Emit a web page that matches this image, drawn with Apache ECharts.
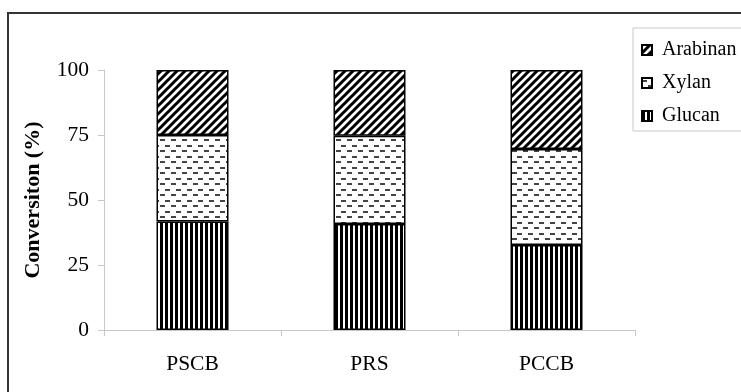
<!DOCTYPE html>
<html>
<head>
<meta charset="utf-8">
<script src="https://cdn.jsdelivr.net/npm/echarts@6/dist/echarts.min.js"></script>
<style>
  html, body { margin: 0; padding: 0; background: #fff; }
  #chart { width: 741px; height: 392px; }
</style>
</head>
<body>
<div id="chart"></div>
<script>
// Substrates and the conversion share of each sugar (%)
const categories = ['PSCB', 'PRS', 'PCCB'];
const glucan   = [41.7, 40.8, 32.7];
const xylan    = [33.3, 33.9, 36.9];
const arabinan = [25.0, 25.3, 30.4];
const yTicks   = [0, 25, 50, 75, 100];

// Hatch fills drawn on small tiles
function tile(w, h, draw) {
  const c = document.createElement('canvas');
  c.width = w; c.height = h;
  const ctx = c.getContext('2d');
  ctx.fillStyle = '#fff';
  ctx.fillRect(0, 0, w, h);
  draw(ctx);
  return { image: c, repeat: 'repeat' };
}
const verticalHatch = tile(5, 5, ctx => {
  ctx.fillStyle = '#000';
  ctx.fillRect(0, 0, 3, 5);
});
const dashHatch = tile(11, 11, ctx => {
  ctx.fillStyle = '#444';
  ctx.fillRect(0, 2, 5, 2);
  ctx.fillRect(6, 7, 5, 2);
});
const diagonalHatch = tile(8, 8, ctx => {
  ctx.strokeStyle = '#000';
  ctx.lineWidth = 3;
  ctx.beginPath();
  for (let x = -8; x <= 8; x += 8) {
    ctx.moveTo(x - 2, 10);
    ctx.lineTo(x + 10, -2);
  }
  ctx.stroke();
});

const font = '"Liberation Serif", "Times New Roman", serif';
const barStyle = (fill) => ({ color: fill, borderColor: '#000', borderWidth: 1.5 });

const chart = echarts.init(document.getElementById('chart'), null, { renderer: 'canvas' });
chart.setOption({
  animation: false,
  backgroundColor: '#fff',
  textStyle: { fontFamily: font, color: '#000' },
  graphic: [{
    type: 'rect',
    shape: { x: 8, y: 13, width: 800, height: 500 },
    style: { fill: 'none', stroke: '#333', lineWidth: 2 },
    silent: true
  }],
  grid: { left: 104, right: 106, top: 70, bottom: 62 },
  legend: {
    data: ['Arabinan', 'Xylan', 'Glucan'],
    orient: 'vertical',
    left: 633, top: 28,
    padding: [12, 30, 5, 8],
    itemWidth: 10, itemHeight: 10,
    itemGap: 13,
    icon: 'rect',
    borderColor: '#c8c8c8', borderWidth: 1,
    textStyle: { fontFamily: font, fontSize: 20, color: '#000', lineHeight: 20, padding: [0, 0, 0, 5] }
  },
  xAxis: {
    type: 'category',
    data: categories,
    axisLine: { lineStyle: { color: '#c8c8c8', width: 1 } },
    axisTick: { show: true, length: 6, lineStyle: { color: '#c8c8c8' } },
    axisLabel: { fontFamily: font, fontSize: 21.5, color: '#000', margin: 23 }
  },
  yAxis: {
    type: 'value',
    min: 0, max: 100, interval: 25,
    name: 'Conversiton (%)',
    nameLocation: 'middle',
    nameGap: 60,
    nameTextStyle: { fontFamily: font, fontSize: 22, fontWeight: 'bold', color: '#000' },
    axisLine: { show: true, lineStyle: { color: '#c8c8c8', width: 1 } },
    axisTick: { show: true, length: 6, lineStyle: { color: '#c8c8c8' } },
    splitLine: { show: false },
    axisLabel: {
      fontFamily: font, fontSize: 21.5, color: '#000', margin: 15,
      formatter: v => yTicks.includes(v) ? String(v) : ''
    }
  },
  series: [
    { name: 'Glucan', type: 'bar', stack: 'total', barWidth: 72, data: glucan, itemStyle: barStyle(verticalHatch) },
    { name: 'Xylan', type: 'bar', stack: 'total', barWidth: 72, data: xylan, itemStyle: barStyle(dashHatch) },
    { name: 'Arabinan', type: 'bar', stack: 'total', barWidth: 72, data: arabinan, itemStyle: barStyle(diagonalHatch) }
  ]
});
</script>
</body>
</html>
